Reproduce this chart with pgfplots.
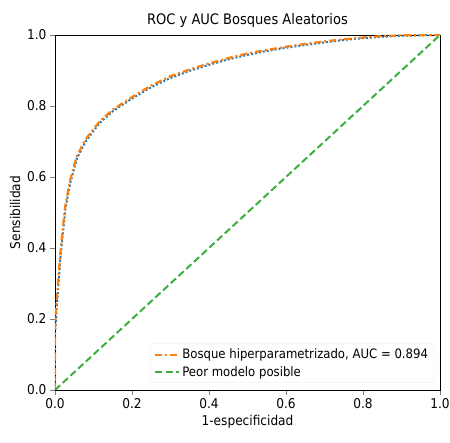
\documentclass[border=0pt]{standalone}
\usepackage{pgfplots}
\pgfplotsset{compat=1.18}
\usepackage{fontspec}
\setmainfont{DejaVu Sans Condensed}
\definecolor{mplblue}{HTML}{1F77B4}
\definecolor{mplorange}{HTML}{FF7F0E}
\definecolor{mplgreen}{HTML}{3CAF3C}
\begin{document}
\begin{tikzpicture}
\begin{axis}[
  name=ax,
  scale only axis,
  width=385pt, height=355pt,
  xmin=0, xmax=1, ymin=0, ymax=1,
  xtick={0,0.2,...,1}, ytick={0,0.2,...,1},
  /pgf/number format/.cd, fixed, fixed zerofill, precision=1, assume math mode=true,
  /pgfplots/.cd,
  tick align=outside, tick pos=left,
  major tick length=5pt,
  tick label style={font=\fontsize{13.5}{15}\selectfont},
  label style={font=\fontsize{13.5}{15}\selectfont},
  title style={font=\fontsize{14.5}{17}\selectfont, yshift=-2pt},
  title={ROC y AUC Bosques Aleatorios},
  xlabel={1-especificidad},
  ylabel={Sensibilidad},
  legend style={at={(0.985,0.02)}, anchor=south east, draw=white!93!black,
    rounded corners=2pt, font=\fontsize{13}{15}\selectfont,
    inner xsep=4pt, inner ysep=3pt, row sep=2pt},
  legend cell align=left,
  legend image code/.code={\draw[#1] (0pt,0pt) -- (24pt,0pt);},
]
\addplot[mplblue, line width=2pt, dotted, forget plot] coordinates {
(0,0) (0,0.16) (0.005,0.24) (0.014,0.37) (0.027,0.51) (0.040,0.585) (0.057,0.652)
(0.079,0.699) (0.1,0.73) (0.117,0.753) (0.15,0.785) (0.2,0.821) (0.25,0.853)
(0.3,0.879) (0.35,0.899) (0.4,0.916) (0.45,0.931) (0.5,0.944) (0.55,0.955)
(0.6,0.964) (0.65,0.972) (0.7,0.979) (0.75,0.986) (0.8,0.991) (0.85,0.995)
(0.9,0.998) (1,1)
};
\addplot[mplorange, line width=2.2pt, dash pattern=on 7pt off 3pt on 2pt off 3pt] coordinates {
(0,0) (0,0.17) (0.004,0.245) (0.013,0.375) (0.026,0.515) (0.039,0.59) (0.056,0.657)
(0.078,0.704) (0.1,0.735) (0.117,0.758) (0.15,0.79) (0.2,0.825) (0.25,0.858)
(0.3,0.884) (0.35,0.903) (0.4,0.92) (0.45,0.935) (0.5,0.948) (0.55,0.958)
(0.6,0.967) (0.65,0.975) (0.7,0.982) (0.75,0.988) (0.8,0.993) (0.85,0.997)
(0.9,0.999) (1,1)
};
\addlegendentry{Bosque hiperparametrizado, AUC = 0.894}
\addplot[mplgreen, line width=2pt, dash pattern=on 7pt off 3.5pt] coordinates {(0,0) (1,1)};
\addlegendentry{Peor modelo posible}
\end{axis}
\pgfresetboundingbox
\path ([shift={(-55pt,-53pt)}]ax.south west) rectangle ([shift={(10pt,35pt)}]ax.north east);
\end{tikzpicture}
\end{document}
